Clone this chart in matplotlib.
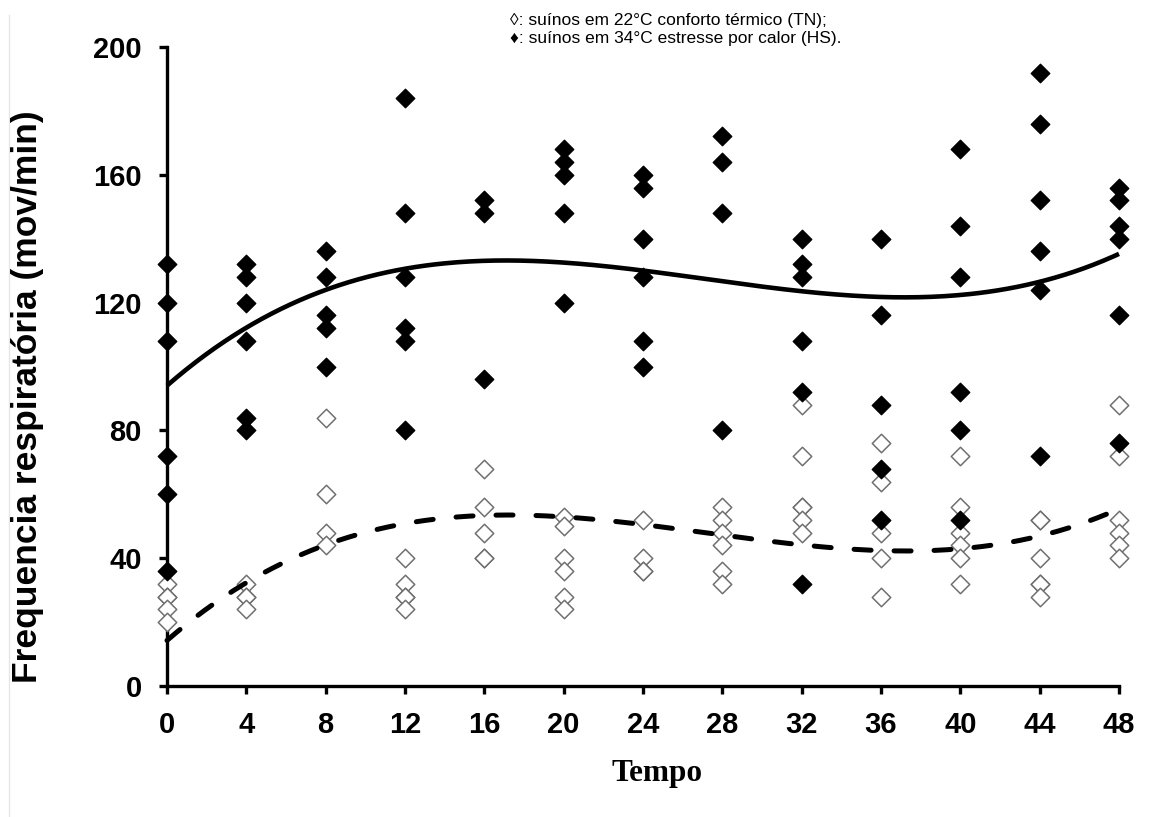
import numpy as np
import matplotlib
matplotlib.use("Agg")
import matplotlib.pyplot as plt
from matplotlib.lines import Line2D

# respiratory rate (mov/min) per sampling time (h)
tempos = [0, 4, 8, 12, 16, 20, 24, 28, 32, 36, 40, 44, 48]

# heat stress, 34 C
hs = {
    0: [132, 120, 108, 72, 60, 36],
    4: [132, 128, 120, 108, 84, 80],
    8: [136, 128, 116, 112, 100],
    12: [184, 148, 128, 112, 108, 80],
    16: [152, 148, 96],
    20: [168, 164, 160, 148, 120],
    24: [160, 156, 140, 128, 108, 100],
    28: [172, 164, 148, 80],
    32: [140, 132, 128, 108, 92, 32],
    36: [140, 116, 88, 68, 52],
    40: [168, 144, 128, 92, 80, 52],
    44: [192, 176, 152, 136, 124, 72],
    48: [156, 152, 144, 140, 116, 76],
}

# thermoneutral, 22 C
tn = {
    0: [32, 28, 28, 24, 20],
    4: [32, 28, 28, 24],
    8: [84, 60, 48, 44],
    12: [40, 32, 28, 28, 24],
    16: [68, 56, 48, 40, 40],
    20: [53, 50, 40, 36, 28, 24],
    24: [52, 40, 36, 36],
    28: [56, 52, 48, 44, 36, 32],
    32: [88, 72, 56, 56, 52, 48],
    36: [76, 64, 48, 40, 28],
    40: [72, 56, 48, 44, 40, 32],
    44: [52, 52, 40, 32, 32, 28],
    48: [88, 72, 52, 48, 44, 40],
}

# polynomial trend values at each time (HS solid, TN dashed)
trend_hs = [94, 112, 124, 131, 133, 132.5, 130, 126, 124, 122, 122, 127, 135]
trend_tn = [15, 31, 44.5, 50.5, 54, 53.3, 50.5, 47, 44, 42.3, 43, 47, 55.5]

yticks = [0, 40, 80, 120, 160, 200]
legenda = ["\u25ca: suínos em 22°C conforto térmico (TN);",
           "\u2666: suínos em 34°C estresse por calor (HS)."]


def flat(d):
    xs, ys = [], []
    for t in tempos:
        for v in d[t]:
            xs.append(t)
            ys.append(v)
    return np.array(xs, float), np.array(ys, float)


x_hs, y_hs = flat(hs)
x_tn, y_tn = flat(tn)

fig = plt.figure(figsize=(11.61, 8.17), dpi=100)
ax = fig.add_axes([167 / 1161, 1 - 686 / 817, (1119 - 167) / 1161, (686 - 47) / 817])

ax.scatter(x_tn, y_tn, marker="D", s=9.4 ** 2, facecolors="white",
           edgecolors="#707070", linewidths=1.1, zorder=4, clip_on=False)
ax.scatter(x_hs, y_hs, marker="D", s=9.4 ** 2, color="black",
           zorder=5, clip_on=False)

# smooth cubic through the trend values
xx = np.linspace(0, 48, 300)
p_hs = np.polyfit(tempos, trend_hs, 3)
p_tn = np.polyfit(tempos, trend_tn, 3)
ax.plot(xx, np.polyval(p_hs, xx), color="black", lw=3.3, zorder=6,
        solid_capstyle="butt", clip_on=False)
ax.plot(xx, np.polyval(p_tn, xx), color="black", lw=3.6, zorder=6,
        dashes=(3.4, 4.6), dash_capstyle="round", clip_on=False)

ax.set_xlim(0, 48)
ax.set_ylim(0, 200)
ax.set_xticks(tempos)
ax.set_yticks(yticks)
for s in ["top", "right"]:
    ax.spines[s].set_visible(False)
for s in ["left", "bottom"]:
    ax.spines[s].set_linewidth(2.4)
    ax.spines[s].set_zorder(3)
ax.tick_params(width=2.4, length=6, direction="out", pad=12,
               labelsize=21)
for lab in ax.get_xticklabels() + ax.get_yticklabels():
    lab.set_fontfamily("Liberation Sans")
    lab.set_fontweight("bold")

fig.text(28 / 1161, 1 - 397 / 817, "Frequencia respiratória (mov/min)",
         rotation=90, ha="center", va="center", fontsize=25.5,
         fontweight="bold", family="Liberation Sans")
fig.text(657 / 1161, 1 - 773 / 817, "Tempo", ha="center", va="center",
         fontsize=22.5, fontweight="bold", family="Liberation Serif")

for i, linha in enumerate(legenda):
    fig.text(510 / 1161, 1 - (20 + 18 * i) / 817, linha, ha="left",
             va="center", fontsize=12.5,
             family=["Liberation Sans", "DejaVu Sans"])

# thin frame line on the left edge
fig.add_artist(Line2D([8.5 / 1161, 8.5 / 1161], [0, 1 - 15 / 817],
                      color="#e6e6e6", lw=1))

fig.savefig("out.png", dpi=100, facecolor="white")
